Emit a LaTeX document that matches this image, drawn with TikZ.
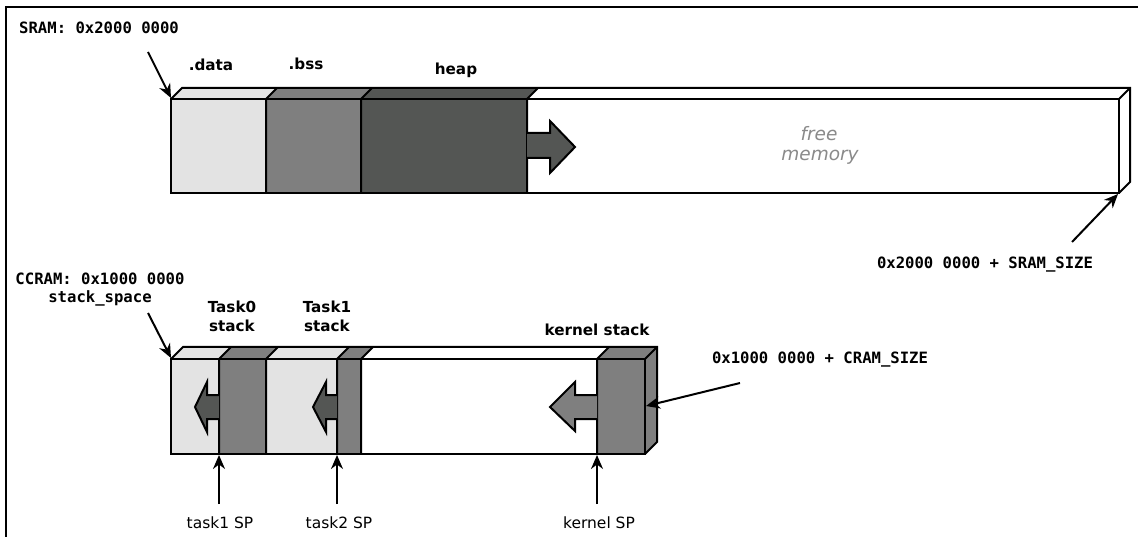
\documentclass[tikz,border=0pt]{standalone}
\usepackage{fontspec}
\setmainfont{DejaVu Sans}
\setmonofont{DejaVu Sans Mono}
\usetikzlibrary{arrows.meta}
\definecolor{lightseg}{HTML}{E3E3E3}
\definecolor{midseg}{HTML}{7F7F7F}
\definecolor{darkseg}{HTML}{545654}
\definecolor{freegray}{HTML}{8A8A8A}
\begin{document}
\begin{tikzpicture}[x=1pt,y=-1pt,
  outl/.style={draw=black, line width=2pt, line join=miter},
  monolbl/.style={font=\fontsize{15.6}{18}\selectfont\ttfamily\bfseries, inner sep=0pt},
  seclbl/.style={font=\fontsize{15.2}{18}\selectfont\bfseries, inner sep=0pt},
  splbl/.style={font=\fontsize{15.5}{18}\selectfont, inner sep=0pt},
  freelbl/.style={font=\fontsize{18.5}{22}\selectfont\itshape, text=freegray, inner sep=0pt},
  pointer/.style={line width=2pt, -{Stealth[length=14pt,width=12pt]}},
]
\useasboundingbox (0,0) rectangle (1138,537);
% frame
\draw[line width=2.4pt] (6,537) -- (6,7) -- (1138,7);

% ---------------- SRAM ----------------
% front faces
\fill[lightseg] (171,99) rectangle (266,193);
\fill[midseg] (266,99) rectangle (361,193);
\fill[darkseg] (361,99) rectangle (527,193);
\fill[white] (527,99) rectangle (1119,193);
% top faces
\fill[lightseg] (171,99) -- (182,88) -- (277,88) -- (266,99) -- cycle;
\fill[midseg] (266,99) -- (277,88) -- (372,88) -- (361,99) -- cycle;
\fill[darkseg] (361,99) -- (372,88) -- (538,88) -- (527,99) -- cycle;
% outlines
\draw[outl] (171,99) rectangle (1119,193);
\draw[outl] (171,99) -- (182,88) -- (1130,88) -- (1130,182) -- (1119,193);
\draw[outl] (1119,99) -- (1130,88);
\draw[outl] (266,193) -- (266,99) -- (277,88);
\draw[outl] (361,193) -- (361,99) -- (372,88);
\draw[outl] (527,193) -- (527,99) -- (538,88);
% heap growth arrow
\draw[outl, fill=darkseg] (527,133) -- (550,133) -- (550,121) -- (575,147) -- (550,173) -- (550,158) -- (527,158);
\node[freelbl] (freelbl1) at (819,134) {free};
\node[freelbl] (freelbl2) at (820,157) {memory};

% labels
\node[monolbl, anchor=west] (sramlbl) at (19,28) {SRAM: 0x2000 0000};
\node[seclbl] (datalbl) at (211,65) {.data};
\node[seclbl] (bsslbl) at (306,64) {.bss};
\node[seclbl] (heaplbl) at (456,70) {heap};
\node[monolbl] (sramend) at (985,265) {0x2000 0000 + SRAM\_SIZE};
\coordinate (sramA) at (148,52);
\coordinate (sramB) at (171,98);
\coordinate (sramC) at (1072,242);
\coordinate (sramD) at (1118,194);
\draw[pointer] (sramA) -- (sramB);
\draw[pointer] (sramC) -- (sramD);

% ---------------- CCRAM ----------------
\fill[lightseg] (171,359) rectangle (219,454);
\fill[midseg] (219,359) rectangle (266,454);
\fill[lightseg] (266,359) rectangle (337,454);
\fill[midseg] (337,359) rectangle (361,454);
\fill[white] (361,359) rectangle (597,454);
\fill[midseg] (597,359) rectangle (645,454);
% top faces
\fill[lightseg] (171,359) -- (183,347) -- (231,347) -- (219,359) -- cycle;
\fill[midseg] (219,359) -- (231,347) -- (278,347) -- (266,359) -- cycle;
\fill[lightseg] (266,359) -- (278,347) -- (349,347) -- (337,359) -- cycle;
\fill[midseg] (337,359) -- (349,347) -- (373,347) -- (361,359) -- cycle;
\fill[midseg] (597,359) -- (609,347) -- (657,347) -- (645,359) -- cycle;
% side face
\fill[midseg] (645,359) -- (657,347) -- (657,442) -- (645,454) -- cycle;
% outlines
\draw[outl] (171,359) rectangle (645,454);
\draw[outl] (171,359) -- (183,347) -- (657,347) -- (657,442) -- (645,454);
\draw[outl] (645,359) -- (657,347);
\draw[outl] (219,454) -- (219,359) -- (231,347);
\draw[outl] (266,454) -- (266,359) -- (278,347);
\draw[outl] (337,454) -- (337,359) -- (349,347);
\draw[outl] (361,454) -- (361,359) -- (373,347);
\draw[outl] (597,454) -- (597,359) -- (609,347);
% stack growth arrows
\draw[outl, fill=darkseg] (219,395) -- (207,395) -- (207,382) -- (195,407) -- (207,432) -- (207,419) -- (219,419);
\draw[outl, fill=darkseg] (337,395) -- (326,395) -- (326,382) -- (313,407) -- (326,432) -- (326,419) -- (337,419);
\draw[outl, fill=midseg] (597,395) -- (575,395) -- (575,382) -- (550,407) -- (575,431) -- (575,419) -- (597,419);

% labels
\node[monolbl] (ccramlbl) at (100,279) {CCRAM: 0x1000 0000};
\node[monolbl] (stacklbl) at (100,298) {stack\_space};
\node[seclbl] (t0lbl1) at (232,307) {Task0};
\node[seclbl] (t0lbl2) at (232,326) {stack};
\node[seclbl] (t1lbl1) at (327,307) {Task1};
\node[seclbl] (t1lbl2) at (327,326) {stack};
\node[seclbl] (klbl) at (597,330) {kernel stack};
\node[monolbl] (ccramend) at (820,360) {0x1000 0000 + CRAM\_SIZE};
\coordinate (ccA) at (148,313);
\coordinate (ccB) at (171,358);
\coordinate (ccC) at (740,383);
\coordinate (ccD) at (646,406);
\draw[pointer] (ccA) -- (ccB);
\draw[pointer] (ccC) -- (ccD);

% stack pointers
\node[splbl] (sp1) at (220,523) {task1 SP};
\node[splbl] (sp2) at (339,523) {task2 SP};
\node[splbl] (spk) at (599,523) {kernel SP};
\coordinate (sp1a) at (219,504);
\coordinate (sp1b) at (219,455);
\coordinate (sp2a) at (337,504);
\coordinate (sp2b) at (337,455);
\coordinate (spka) at (597,504);
\coordinate (spkb) at (597,455);
\draw[pointer] (sp1a) -- (sp1b);
\draw[pointer] (sp2a) -- (sp2b);
\draw[pointer] (spka) -- (spkb);
\end{tikzpicture}
\end{document}
